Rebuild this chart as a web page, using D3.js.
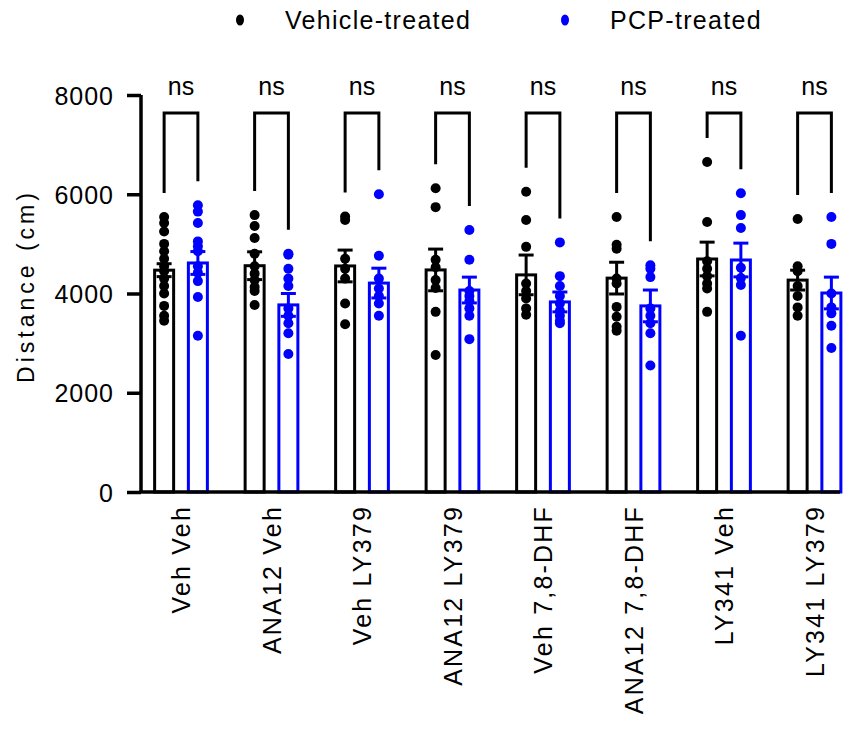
<!DOCTYPE html>
<html lang="en">
<head>
  <meta charset="UTF-8"/>
  <title>Distance bar chart</title>
  <script src="https://d3js.org/d3.v7.min.js"></script>
<style>
body {
  margin: 0;
  background: #fff;
  font-family: 'Liberation Sans', Arial, sans-serif;
}
svg {
  display: block;
}
text {
  fill: #000;
  font-family: 'Liberation Sans', Arial, sans-serif;
}
.tick text {
  font-size: 25px;
  letter-spacing: 1px;
}
text.ylabel {
  font-size: 23px;
  letter-spacing: 4px;
}
text.xlabel {
  font-size: 25px;
  letter-spacing: 2.2px;
}
text.legend {
  font-size: 25px;
  letter-spacing: 1.3px;
}
text.ns {
  font-size: 25px;
}
</style>
</head>
<body>
<svg id="chart" width="851" height="730"></svg>
<script>
// groups along the x axis
const categories = ['Veh Veh', 'ANA12 Veh', 'Veh LY379', 'ANA12 LY379',
  'Veh 7,8-DHF', 'ANA12 7,8-DHF', 'LY341 Veh', 'LY341 LY379'];
const seriesNames = ['Vehicle-treated', 'PCP-treated'];
const yTicks = [0, 2000, 4000, 6000, 8000];

// bar heights (mean) and SEM
const vehMean = [4470, 4560, 4555, 4475, 4375, 4310, 4695, 4270];
const vehSem  = [130, 280, 320, 420, 400, 320, 340, 200];
const pcpMean = [4615, 3770, 4210, 4070, 3830, 3750, 4675, 4010];
const pcpSem  = [230, 230, 300, 260, 200, 320, 340, 320];

// individual animals
const vehPoints = [
  [5540, 5420, 5250, 5000, 4850, 4700, 4550, 4450, 4300, 4150, 4000, 3750, 3550, 3450],
  [5580, 5360, 5120, 4800, 4550, 4400, 4270, 4130, 4050, 3770],
  [5550, 5480, 4700, 4500, 4300, 3800, 3380],
  [6120, 5740, 4680, 4530, 4270, 4110, 3630, 2760],
  [6050, 5480, 4940, 4200, 4050, 3900, 3700, 3570],
  [5540, 4980, 4900, 4300, 4200, 3730, 3530, 3330, 3250],
  [6650, 5440, 4650, 4500, 4350, 4200, 4100, 3630],
  [5500, 4550, 4450, 4150, 3950, 3720, 3550]
];
const pcpPoints = [
  [5780, 5650, 5420, 5050, 4950, 4850, 4550, 4420, 4250, 3930, 3150],
  [4800, 4780, 4500, 4300, 4150, 3700, 3550, 3400, 3200, 2780],
  [6000, 4760, 4300, 4100, 3950, 3800, 3550],
  [5280, 4680, 4050, 3950, 3850, 3700, 3550, 3080],
  [5030, 4350, 4150, 3950, 3800, 3650, 3550, 3450, 3400],
  [4570, 4500, 4330, 3700, 3550, 3400, 3200, 2550],
  [6020, 5580, 5320, 4520, 4310, 4170, 3150],
  [5540, 5000, 4000, 3720, 3600, 3350, 2900]
];
const nsLabels = ['ns', 'ns', 'ns', 'ns', 'ns', 'ns', 'ns', 'ns'];
const colors = ['#000000', '#0000ff'];

const svg = d3.select('#chart');

const axisLeftX = 141;
const axisRightX = 840;
const plotTop = 95;
const plotBottom = 492;

const x = d3.scaleBand()
  .domain(categories)
  .range([135.75, 859.75])
  .padding(0);

const xSub = d3.scaleBand()
  .domain(seriesNames)
  .range([11.5, 79])
  .padding(0);

const y = d3.scaleLinear()
  .domain([0, 8000])
  .range([plotBottom, plotTop]);

const barW = 19;
const capW = 15;

const data = categories.map((c, i) => ({
  cat: c,
  series: [
    { name: seriesNames[0], mean: vehMean[i], sem: vehSem[i], pts: vehPoints[i], color: colors[0] },
    { name: seriesNames[1], mean: pcpMean[i], sem: pcpSem[i], pts: pcpPoints[i], color: colors[1] }
  ]
}));

const cx = (cat, name) => x(cat) + xSub(name) + xSub.bandwidth() / 2;

const groups = svg.selectAll('g.group')
  .data(data)
  .enter()
  .append('g')
  .attr('class', 'group');

// hollow bars
groups.selectAll('rect')
  .data(d => d.series.map(s => ({ ...s, cat: d.cat })))
  .enter()
  .append('rect')
  .attr('x', s => cx(s.cat, s.name) - barW / 2)
  .attr('y', s => y(s.mean))
  .attr('width', barW)
  .attr('height', s => plotBottom - y(s.mean))
  .attr('fill', 'none')
  .attr('stroke', s => s.color)
  .attr('stroke-width', 3);

// error bars (mean +/- SEM)
const err = groups.selectAll('g.err')
  .data(d => d.series.map(s => ({ ...s, cat: d.cat })))
  .enter()
  .append('g')
  .attr('class', 'err')
  .attr('stroke', s => s.color)
  .attr('stroke-width', 3);

err.append('line')
  .attr('x1', s => cx(s.cat, s.name))
  .attr('x2', s => cx(s.cat, s.name))
  .attr('y1', s => y(s.mean - s.sem))
  .attr('y2', s => y(s.mean + s.sem));

err.append('line')
  .attr('x1', s => cx(s.cat, s.name) - capW / 2)
  .attr('x2', s => cx(s.cat, s.name) + capW / 2)
  .attr('y1', s => y(s.mean + s.sem))
  .attr('y2', s => y(s.mean + s.sem));

err.append('line')
  .attr('x1', s => cx(s.cat, s.name) - capW / 2)
  .attr('x2', s => cx(s.cat, s.name) + capW / 2)
  .attr('y1', s => y(s.mean - s.sem))
  .attr('y2', s => y(s.mean - s.sem));

// scatter of animals
groups.selectAll('g.pts')
  .data(d => d.series.map(s => ({ ...s, cat: d.cat })))
  .enter()
  .append('g')
  .attr('class', 'pts')
  .selectAll('circle')
  .data(s => s.pts.map(v => ({ v: v, s: s })))
  .enter()
  .append('circle')
  .attr('cx', p => cx(p.s.cat, p.s.name))
  .attr('cy', p => y(p.v))
  .attr('r', 5)
  .attr('fill', p => p.s.color);

// significance brackets
const bracketTop = 113;
groups.append('path')
  .attr('fill', 'none')
  .attr('stroke', '#000')
  .attr('stroke-width', 3)
  .attr('d', (d, i) => {
    const x1 = cx(d.cat, seriesNames[0]);
    const x2 = cx(d.cat, seriesNames[1]);
    const y1 = y(d3.max(vehPoints[i])) - 24;
    const y2 = y(d3.max(pcpPoints[i])) - 24;
    return `M${x1},${y1}V${bracketTop}H${x2}V${y2}`;
  });

groups.append('text')
  .attr('class', 'ns')
  .attr('x', d => x(d.cat) + x.bandwidth() / 2)
  .attr('y', 95)
  .attr('text-anchor', 'middle')
  .text((d, i) => nsLabels[i]);

// y axis
const yAxis = svg.append('g')
  .attr('transform', `translate(${axisLeftX},0)`)
  .call(d3.axisLeft(y).tickValues(yTicks).tickFormat(d3.format('d')).tickSize(14).tickPadding(13));
yAxis.select('.domain').attr('stroke-width', 3.5).attr('d', `M0,${plotTop}V${plotBottom}`);
yAxis.selectAll('.tick line').attr('stroke-width', 3.5);
yAxis.selectAll('.tick text').attr('dy', '0.36em');

// x axis
const xAxis = svg.append('g')
  .attr('transform', `translate(0,${plotBottom})`)
  .call(d3.axisBottom(x).tickSize(0).tickPadding(0));
xAxis.select('.domain').attr('stroke-width', 3.5).attr('d', `M${axisLeftX - 1.5},0H${axisRightX}`);
xAxis.selectAll('.tick text')
  .attr('class', 'xlabel')
  .attr('transform', 'rotate(-90)')
  .attr('x', -13)
  .attr('y', 0)
  .attr('dy', '0.36em')
  .attr('text-anchor', 'end');

// y label
svg.append('text')
  .attr('class', 'ylabel')
  .attr('transform', 'translate(34,286) rotate(-90)')
  .attr('text-anchor', 'middle')
  .text('Distance (cm)');

// legend
const legend = svg.append('g');
const legendX = [240, 565];
seriesNames.forEach((name, i) => {
  legend.append('ellipse')
    .attr('cx', legendX[i])
    .attr('cy', 20)
    .attr('rx', 4)
    .attr('ry', 5.5)
    .attr('fill', colors[i]);
  legend.append('text')
    .attr('class', 'legend')
    .attr('x', legendX[i] + 45)
    .attr('y', 29)
    .text(name);
});
</script>
</body>
</html>
